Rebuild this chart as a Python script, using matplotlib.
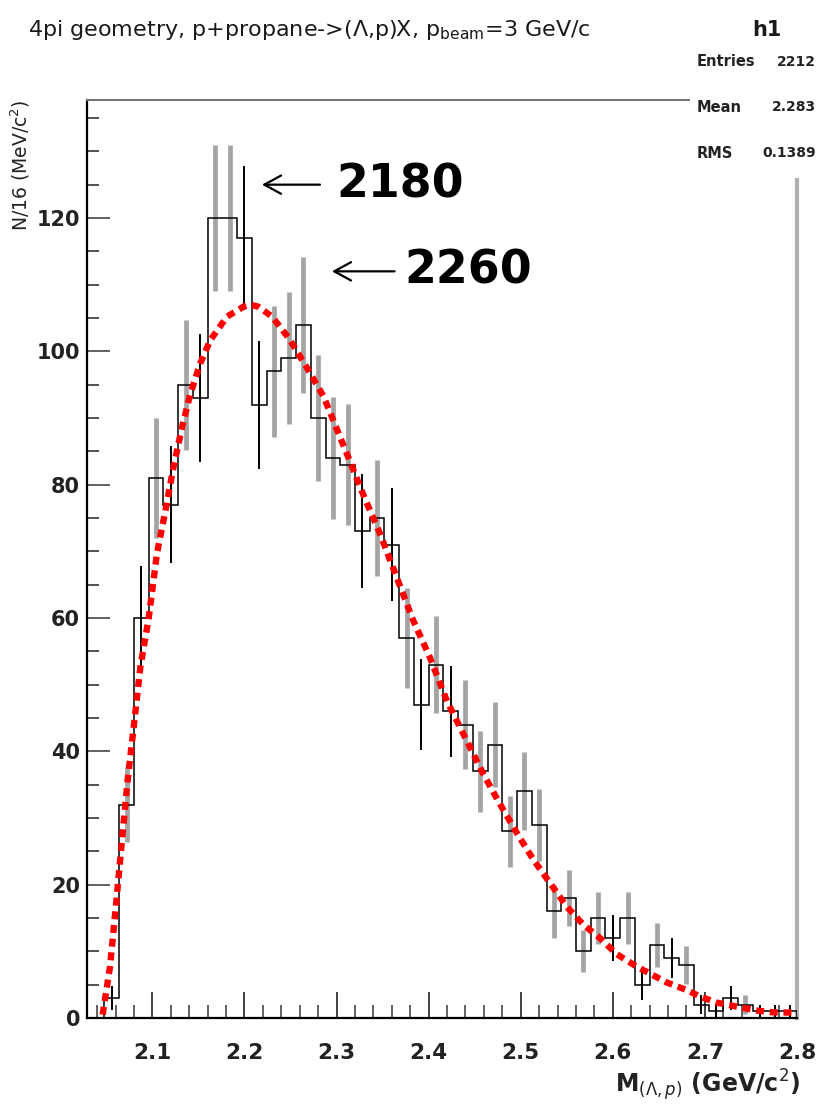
import numpy as np
import matplotlib
matplotlib.use("Agg")
import matplotlib.pyplot as plt
from matplotlib.ticker import MultipleLocator

# ---- histogram h1: (Lambda,p) invariant mass, 16 MeV bins ----
bin_lo = 2.032          # GeV/c^2
bin_width = 0.016       # GeV/c^2
counts = [0, 3, 32, 60, 81, 77, 95, 93, 120, 120,
          117, 92, 97, 99, 104, 90, 84, 83, 73, 75,
          71, 57, 47, 53, 46, 44, 37, 41, 28, 34,
          29, 16, 18, 10, 15, 12, 15, 5, 11, 9,
          8, 2, 1, 3, 2, 1, 1, 1]

# ---- fitted background curve (mass, yield per bin) ----
fit_mass = [2.046, 2.054, 2.061, 2.067, 2.073, 2.080, 2.087, 2.096, 2.105, 2.114,
            2.123, 2.132, 2.141, 2.152, 2.163, 2.181, 2.199, 2.206, 2.215, 2.230,
            2.248, 2.268, 2.286, 2.311, 2.329, 2.347, 2.365, 2.383, 2.401, 2.420,
            2.441, 2.459, 2.477, 2.496, 2.514, 2.532, 2.550, 2.568, 2.586, 2.604,
            2.626, 2.659, 2.680, 2.695, 2.713, 2.735, 2.757, 2.774, 2.797]
fit_yield = [0.5, 7.7, 17.7, 26.7, 35.5, 44.0, 52.7, 60.0, 69.7, 76.0,
             82.7, 88.5, 93.5, 98.2, 101.7, 105.2, 106.7, 107.0, 106.7, 105.2,
             102.0, 97.5, 93.2, 84.7, 78.5, 72.7, 66.2, 59.7, 54.2, 47.5,
             41.7, 36.7, 32.2, 27.7, 23.7, 20.2, 16.7, 14.0, 12.0, 9.6,
             7.7, 5.3, 4.2, 3.2, 2.3, 1.7, 1.1, 0.85, 0.8]

# ---- marked structures ----
peak_labels = ["2180", "2260"]

# rendering shade of each error bar (D = dark, L = light)
bar_shade = "DDLDLDLDLL" "DDLLLLLLDL" "DLDLDLLLLL" "LLLLLDLDLD" "LDDDLDDD"

W, H = 819, 1104
fig = plt.figure(figsize=(W / 100, H / 100), dpi=100)
fig.patch.set_facecolor("white")


def fx(px):
    return px / W


def fy(py):
    return 1 - py / H


ax = fig.add_axes([fx(87), fy(1018), fx(797) - fx(87), fy(100) - fy(1018)])

counts_arr = np.asarray(counts, dtype=float)
edges = bin_lo + bin_width * np.arange(len(counts) + 1)
centers = 0.5 * (edges[:-1] + edges[1:])
errs = np.sqrt(counts_arr)

# error bars (statistical, sqrt(N))
for c, n, e, s in zip(centers, counts_arr, errs, bar_shade):
    if n <= 0:
        continue
    if s == "D":
        ax.vlines(c, n - e, n + e, color="black", lw=1.4, zorder=3)
    else:
        ax.vlines(c, n - e, n + e, color="#a4a4a4", lw=3.4, zorder=2)

# histogram outline
ax.stairs(counts_arr, edges, color="black", lw=1.1, zorder=4)

# fit curve
ax.plot(fit_mass, fit_yield, color="#ff0000", lw=4.6,
        linestyle=(0, (1.25, 0.9)), dash_capstyle="butt", zorder=6)

ax.set_xlim(2.029, 2.8)
ax.set_ylim(0, 137.7)

ax.xaxis.set_major_locator(MultipleLocator(0.1))
ax.xaxis.set_minor_locator(MultipleLocator(0.02))
ax.yaxis.set_major_locator(MultipleLocator(20))
ax.yaxis.set_minor_locator(MultipleLocator(5))

ax.tick_params(axis="x", which="major", direction="in", length=19, width=1.3,
               color="#333333", pad=18, labelsize=15.5, labelcolor="#222222")
ax.tick_params(axis="x", which="minor", direction="in", length=9.5, width=1.3,
               color="#555555")
ax.tick_params(axis="y", which="major", direction="in", length=16.5, width=1.3,
               color="#555555", pad=5, labelsize=15, labelcolor="#222222")
ax.tick_params(axis="y", which="minor", direction="in", length=8.6, width=1.3,
               color="#444444")
ax.tick_params(top=False, right=False, which="both")
plt.setp(ax.get_xticklabels(), fontweight="bold")
plt.setp(ax.get_yticklabels(), fontweight="bold")

ax.spines["left"].set_color("black")
ax.spines["left"].set_linewidth(1.6)
ax.spines["bottom"].set_color("black")
ax.spines["bottom"].set_linewidth(1.6)
ax.spines["top"].set_color("#777777")
ax.spines["top"].set_linewidth(1.5)
ax.spines["right"].set_color("#b0b0b0")
ax.spines["right"].set_linewidth(3.0)

# peak annotations
arrow_props = dict(arrowstyle="->,head_length=0.55,head_width=0.3",
                   lw=1.6, color="black", shrinkA=0, shrinkB=0,
                   mutation_scale=22)
ax.annotate("", xy=(2.219, 125), xytext=(2.282, 125), arrowprops=arrow_props)
ax.text(2.300, 125, peak_labels[0], fontsize=33, fontweight="bold",
        ha="left", va="center", color="black")
ax.annotate("", xy=(2.295, 112), xytext=(2.363, 112), arrowprops=arrow_props)
ax.text(2.374, 112, peak_labels[1], fontsize=33, fontweight="bold",
        ha="left", va="center", color="black")

# axis titles
fig.text(fx(20), fy(100), r"N/16 (MeV/c$^{2}$)", rotation=90, ha="center",
         va="top", fontsize=13.5, color="#222222")
fig.text(fx(800), fy(1085), r"M$_{(\Lambda,p)}$ (GeV/c$^{2}$)", ha="right",
         va="center", fontsize=17, fontweight="bold", color="#222222")

# title
fig.text(fx(28), fy(30), r"4pi geometry, p+propane->($\Lambda$,p)X, p$_{\rm beam}$=3 GeV/c",
         ha="left", va="center", fontsize=16, color="#1a1a1a")

# statistics box
stats_ax = fig.add_axes([fx(690), fy(178), fx(W) - fx(690), fy(40) - fy(178)])
stats_ax.set_facecolor("white")
stats_ax.set_xticks([])
stats_ax.set_yticks([])
for sp in stats_ax.spines.values():
    sp.set_visible(False)

n_entries = int(counts_arr.sum())
mean = np.average(centers, weights=counts_arr)
rms = np.sqrt(np.average((centers - mean) ** 2, weights=counts_arr))

fig.text(fx(767), fy(30), "h1", ha="center", va="center", fontsize=15,
         fontweight="bold", color="#1a1a1a")
stat_rows = [("Entries", f"{n_entries}", 62),
             ("Mean", f"{mean:.3f}", 107),
             ("RMS", f"{rms:.4f}", 153)]
for name, val, py in stat_rows:
    fig.text(fx(697), fy(py), name, ha="left", va="center", fontsize=10.5,
             fontweight="bold", color="#222222")
    fig.text(fx(816), fy(py), val, ha="right", va="center", fontsize=10,
             fontweight="bold", color="#222222")

fig.savefig("out.png", dpi=100, facecolor="white")
